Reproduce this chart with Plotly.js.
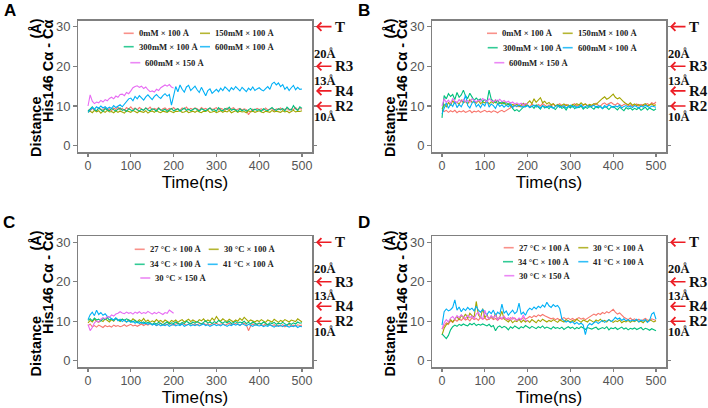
<!DOCTYPE html>
<html><head><meta charset="utf-8">
<script src="https://cdn.plot.ly/plotly-3.0.1.min.js"></script>
<style>html,body{margin:0;padding:0;background:#fff}#chart{width:708px;height:408px}</style>
</head><body><div id="chart"></div>
<script>
// ---------- DATA ----------
const timeLong = [0,5,10,15,20,25,30,35,40,45,50,55,60,65,70,75,80,85,90,95,
100,105,110,115,120,125,130,135,140,145,150,155,160,165,170,175,180,185,190,195,
200,205,210,215,220,225,230,235,240,245,250,255,260,265,270,275,280,285,290,295,
300,305,310,315,320,325,330,335,340,345,350,355,360,365,370,375,380,385,390,395,
400,405,410,415,420,425,430,435,440,445,450,455,460,465,470,475,480,485,490,495,500];
const timeShort = [0,5,10,15,20,25,30,35,40,45,50,55,60,65,70,75,80,85,90,95,
100,105,110,115,120,125,130,135,140,145,150,155,160,165,170,175,180,185,190,195,200];

const saltLabels = ["0mM × 100 Å","150mM × 100 Å","300mM × 100 Å","600mM × 100 Å","600mM × 150 Å"];
const tempLabels = ["27 °C × 100 Å","30 °C × 100 Å","34 °C × 100 Å","41 °C × 100 Å","30 °C × 150 Å"];
const seriesColors = ["#F8766D","#A3A500","#00BF7D","#00B0F6","#E76BF3"];
const xTicks = [0,100,200,300,400,500];
const yTicks = [0,10,20,30];
const stateNames = ["T","R3","R4","R2"];
const stateLevels = [30,20,13.8,10];
const distLabels = ["30Å","20Å","13Å","10Å"];
const distLabelLevels = [32.9,23.1,16.3,7.3];

// Panel A (salt, 100 Å / 150 Å box)
const aSalt0 = [9.0,8.8,9.4,9.1,8.7,9.5,9.2,8.9,9.6,9.0,
9.3,8.8,9.5,9.1,9.7,9.0,9.4,8.9,9.6,9.2,
9.8,9.1,9.5,9.0,9.6,9.3,8.9,9.5,9.2,9.7,
9.0,9.4,9.1,9.6,8.9,9.3,9.5,9.0,9.4,9.2,
9.6,9.1,9.3,8.9,9.5,9.2,9.7,9.0,9.4,9.1,
9.5,9.3,8.9,9.6,9.2,9.4,9.0,9.5,9.1,9.3,
9.6,9.0,9.4,9.2,8.9,9.5,9.1,9.3,9.6,9.0,
9.2,9.4,9.0,9.3,9.1,7.8,8.6,9.2,9.0,9.4,
9.1,9.3,8.9,9.5,9.0,9.2,9.4,8.8,9.3,9.1,
9.5,9.0,9.2,9.4,8.9,9.3,9.1,9.6,9.0,9.4,9.2];
const aSalt150 = [8.4,8.7,8.3,8.9,8.5,8.8,8.2,8.7,8.4,8.9,
8.5,8.6,8.3,8.8,8.4,8.7,8.5,8.2,8.8,8.6,
8.4,8.9,8.5,8.3,8.7,8.6,8.4,8.8,8.2,8.6,
8.7,8.4,8.9,8.5,8.3,8.7,8.6,8.4,8.8,8.5,
8.3,8.7,8.6,8.9,8.4,8.5,8.8,8.3,8.6,8.7,
8.4,8.8,8.5,8.3,8.7,8.6,8.9,8.4,8.5,8.7,
8.3,8.6,8.8,8.4,8.7,8.5,8.9,8.3,8.6,8.8,
8.4,8.7,8.5,8.6,8.3,8.8,8.5,8.7,8.4,8.6,
8.8,8.5,8.3,8.7,8.6,8.4,8.9,8.5,8.7,8.6,
8.4,8.8,8.5,8.7,8.3,8.6,8.9,8.5,8.7,8.6,8.8];
const aSalt300 = [8.7,9.4,9.8,9.1,8.8,9.5,9.0,8.6,9.3,9.1,
8.8,9.4,9.0,8.7,9.2,9.5,8.9,9.1,8.6,9.3,
9.0,8.8,9.4,9.1,8.7,9.2,8.9,9.5,9.0,8.8,
9.3,9.1,8.7,9.4,9.0,8.9,9.2,8.6,9.1,9.4,
8.8,9.0,9.3,8.7,9.1,9.5,8.9,9.2,8.8,9.0,
9.4,9.1,8.7,9.3,9.0,8.8,9.2,9.5,8.9,9.1,
8.7,9.6,9.0,8.8,9.4,9.1,9.7,8.9,9.2,9.0,
8.6,9.3,8.8,9.1,8.7,9.0,9.4,8.8,9.2,8.9,
9.1,8.7,9.3,9.0,8.8,9.2,9.6,9.1,8.9,9.3,
9.0,9.4,8.8,9.7,9.2,9.0,10.1,9.3,8.9,9.8,9.4];
const aSalt600 = [8.4,9.0,9.6,9.2,9.8,9.4,10.0,9.5,9.8,9.3,
9.7,9.4,10.1,9.6,9.9,10.3,9.8,10.5,11.2,11.8,
12.0,11.3,12.4,11.8,12.6,12.1,11.5,12.3,12.8,12.2,
11.6,12.4,12.9,12.3,11.9,12.6,13.1,12.5,12.9,10.2,
12.8,14.9,13.6,15.3,14.2,13.5,14.8,15.2,13.9,14.6,
15.0,14.1,13.4,14.7,13.8,12.6,13.9,14.3,13.2,13.8,
14.2,13.6,14.5,13.9,14.8,14.3,13.7,14.6,14.1,14.9,
14.4,13.8,14.7,14.2,13.6,14.5,14.0,14.8,13.9,14.3,
14.6,14.1,13.8,14.4,14.9,14.2,15.6,16.0,15.3,15.8,
14.9,15.4,14.2,14.8,13.9,14.6,15.2,14.1,14.7,14.2,14.3];
const aSalt600Big = [10.0,12.8,11.2,10.6,11.0,10.8,11.4,11.0,11.6,11.3,
11.9,12.2,11.8,12.5,12.2,12.9,13.0,12.6,13.4,13.1,
13.8,14.6,14.9,15.1,14.7,15.0,14.4,14.8,14.1,13.6,
13.8,13.5,14.2,13.9,14.6,14.9,15.3,15.0,15.4,14.8,14.5];

// Panel B (salt)
const bSalt0 = [9.0,8.6,8.9,8.4,8.8,8.5,8.9,8.3,8.7,8.5,
8.8,8.4,8.6,8.9,8.3,8.7,8.5,8.8,8.4,8.6,
8.9,8.5,8.7,8.4,8.8,8.6,8.3,8.7,8.9,8.5,
8.8,9.2,9.6,9.9,10.2,9.8,10.3,10.0,10.4,10.1,
10.3,9.8,10.5,10.1,9.9,10.4,10.0,10.6,10.2,9.8,
10.3,10.0,10.5,9.9,10.2,10.6,10.1,9.8,10.4,10.2,
9.9,10.3,10.6,10.0,10.4,9.8,10.2,10.5,10.1,10.3,
10.0,10.4,10.7,10.2,9.9,10.5,10.8,10.3,10.6,10.9,
10.5,10.2,10.7,10.3,10.0,10.4,10.6,10.1,10.3,9.9,
10.2,10.5,10.0,10.4,10.1,10.3,10.6,10.2,10.8,10.5,11.0];
const bSalt150 = [9.2,10.4,9.8,10.9,10.2,11.3,10.6,11.0,10.4,11.5,
10.8,11.2,10.5,11.6,10.9,11.1,10.7,11.4,10.6,11.0,
10.8,11.3,10.5,11.1,10.7,11.5,10.4,10.9,10.6,11.0,
10.2,10.6,9.9,10.4,10.1,10.5,9.8,10.3,10.7,10.2,
10.8,11.3,10.6,11.8,10.9,11.4,12.1,10.8,11.2,10.5,
10.9,10.3,10.6,10.0,10.4,9.9,10.2,10.5,10.1,10.3,
9.9,10.4,10.1,10.6,10.2,10.8,10.3,10.5,10.0,10.4,
10.2,10.6,10.4,10.9,11.6,11.9,12.3,11.7,12.0,12.5,
13.0,12.2,11.8,12.1,11.4,11.0,10.6,10.3,10.8,10.2,
10.5,10.1,10.4,9.9,10.3,10.6,10.0,10.2,10.5,10.1,10.3];
const bSalt300 = [7.0,12.6,11.8,13.1,12.4,12.9,11.6,13.4,12.2,12.8,
14.0,12.5,11.9,13.2,12.3,11.4,12.0,11.5,11.8,11.1,
11.6,11.0,14.0,11.7,11.2,10.8,11.4,10.6,11.1,10.5,
10.9,10.3,10.7,9.4,8.8,9.1,8.6,9.3,9.7,9.9,
10.2,9.6,10.0,9.4,10.3,9.7,9.2,10.1,9.5,9.9,
9.3,10.0,9.6,9.1,9.8,10.2,9.4,9.7,9.0,9.9,
9.5,10.1,9.3,9.8,9.6,10.0,9.2,9.7,9.4,10.1,
9.6,9.2,9.9,9.5,10.0,9.3,9.8,9.6,9.1,9.7,
9.9,9.4,9.0,9.7,9.3,8.8,9.6,9.2,9.5,9.0,
9.4,9.1,9.6,8.9,9.3,9.7,9.0,9.5,9.2,8.9,9.3];
const bSalt600 = [8.0,9.6,10.8,9.4,10.5,9.9,11.2,9.6,10.4,9.8,
10.9,12.8,10.1,9.5,10.7,11.3,9.8,10.4,9.6,10.6,
10.0,11.4,9.7,10.5,10.1,9.4,10.6,9.9,10.3,9.7,
10.2,9.8,10.4,9.6,10.1,9.9,10.3,9.7,10.0,9.8,
10.1,9.6,9.9,10.2,9.7,10.0,9.5,10.1,9.8,9.6,
10.0,9.7,9.4,9.9,10.2,9.6,9.8,10.1,9.5,9.9,
10.2,9.7,10.0,9.5,9.9,10.3,9.6,9.8,10.1,9.7,
9.9,10.2,9.6,10.0,9.8,9.4,10.1,9.7,10.3,9.9,
9.6,10.0,9.8,10.2,9.5,9.9,10.1,9.7,10.0,9.6,
10.1,9.8,9.5,10.0,9.7,10.2,9.9,9.6,10.0,9.8,9.7];
const bSalt600Big = [10.0,11.8,10.9,11.5,10.7,11.9,11.2,10.8,11.6,11.1,
11.7,11.0,11.4,10.9,11.8,11.3,11.0,11.5,11.2,11.9,
11.4,11.1,11.8,11.3,11.0,11.6,11.2,11.7,11.1,11.4,
10.9,11.2,10.7,11.0,10.5,10.8,10.4,10.7,10.3,10.6,10.5];

// Panel C (temperature)
const cTemp27 = [8.8,9.3,8.6,8.9,8.5,9.0,8.7,8.4,8.9,8.6,
8.8,8.5,9.0,8.7,8.9,8.6,8.8,9.1,8.7,8.9,
9.2,8.8,9.0,8.7,9.1,9.3,8.9,9.2,9.0,9.4,
9.1,9.3,8.9,9.2,9.5,9.0,9.3,9.1,9.4,9.2,
9.0,9.3,9.5,9.1,9.4,9.2,9.0,9.3,9.5,9.1,
9.3,9.0,9.4,9.2,9.5,9.1,9.3,9.0,9.4,9.2,
9.5,9.1,9.3,9.4,9.0,9.2,9.5,9.1,9.3,9.4,
9.2,9.0,9.3,9.5,9.1,7.6,8.8,9.3,9.0,9.2,
9.4,9.1,8.9,9.3,9.0,9.2,8.8,9.1,8.7,9.0,
8.8,9.1,8.6,8.9,9.2,8.7,9.0,8.8,9.1,8.9,9.0];
const cTemp30 = [9.6,10.2,9.8,10.5,10.0,9.7,10.3,9.9,10.6,10.1,
9.8,10.4,10.0,10.7,10.2,9.9,10.5,10.1,9.8,10.3,
9.9,10.6,10.2,9.8,10.4,10.0,10.7,9.9,10.3,9.7,
10.1,9.8,10.4,9.9,10.2,9.7,10.3,10.0,9.6,10.2,
9.9,10.3,9.7,10.1,10.4,9.8,10.2,10.5,9.9,10.3,
10.0,9.7,10.4,10.1,10.6,9.9,10.3,10.0,10.8,10.2,
11.2,10.4,10.0,10.6,10.2,9.9,10.5,10.1,9.8,10.3,
10.0,10.7,10.2,11.0,10.4,9.9,10.3,10.1,9.8,10.2,
9.9,10.4,10.0,9.7,10.3,10.1,9.8,10.5,10.0,9.7,
10.2,9.9,10.4,10.0,9.8,10.3,10.1,9.9,10.6,10.2,9.8];
const cTemp34 = [10.2,10.6,10.1,10.8,10.3,10.5,10.0,10.7,10.4,10.9,
10.3,10.6,10.2,10.8,10.4,10.1,10.5,10.2,10.6,10.3,
10.0,9.8,10.2,9.6,9.9,9.5,9.8,9.4,9.7,9.5,
9.2,9.6,9.3,9.7,9.4,9.1,9.5,9.8,9.3,9.6,
9.4,9.8,9.5,9.2,9.7,9.4,10.0,9.6,9.3,9.8,
9.5,9.9,9.6,9.3,9.7,10.1,9.5,9.8,9.4,9.9,
9.6,10.2,9.8,9.5,9.9,9.6,10.0,9.4,9.7,9.9,
9.5,9.8,9.6,10.0,9.4,9.7,9.3,9.8,9.5,9.2,
9.6,9.3,9.8,9.5,9.1,9.6,9.4,9.7,9.2,9.5,
9.3,9.7,9.4,9.0,9.5,9.2,9.6,9.3,9.8,9.5,9.6];
const cTemp41 = [10.4,11.6,12.3,11.4,12.8,11.7,12.2,11.5,11.9,11.2,
11.0,10.6,10.3,10.8,10.1,10.5,9.9,10.3,9.8,10.1,
9.7,10.0,9.5,9.9,9.4,9.7,9.3,9.6,9.2,9.5,
9.0,9.3,8.9,9.2,8.8,9.1,8.9,9.2,8.7,9.0,
9.2,8.8,9.1,8.9,9.3,8.7,9.0,9.2,8.8,9.1,
8.9,9.2,8.8,9.0,9.3,8.9,9.1,8.7,9.0,9.2,
8.9,9.1,8.8,9.2,9.0,8.7,9.1,8.9,9.3,9.0,
9.2,8.9,9.4,9.1,8.8,9.2,9.0,8.7,9.1,8.9,
8.8,9.0,8.6,8.9,8.7,9.1,8.8,8.5,8.9,8.7,
8.9,8.6,9.0,8.7,8.5,8.8,8.6,8.9,8.4,8.7,8.6];
const cTemp30Big = [9.2,7.6,8.4,9.6,10.1,9.8,10.5,10.9,10.6,11.2,
11.0,11.6,11.3,11.8,12.0,12.4,12.1,11.9,12.3,12.0,
12.2,11.8,12.3,12.0,12.4,11.9,12.2,12.0,12.5,12.1,
11.8,12.2,11.9,12.3,12.0,11.7,12.2,12.0,12.8,12.4,12.0];

// Panel D (temperature)
const dTemp27 = [8.0,8.8,9.6,9.2,10.1,9.7,10.4,10.0,10.6,10.2,
10.8,10.3,10.6,10.1,10.9,10.4,10.7,10.2,11.0,10.5,
10.8,10.3,10.6,10.9,10.4,10.7,10.2,10.8,10.5,11.0,
10.6,10.3,10.9,10.5,10.8,10.2,10.6,10.4,10.9,10.5,
10.8,11.2,10.9,11.4,11.1,11.6,11.3,11.7,11.4,11.2,
10.9,10.6,10.8,10.4,10.7,10.3,10.6,10.9,10.5,10.8,
10.4,10.7,10.3,10.6,10.9,10.5,10.8,10.4,10.7,11.1,
11.4,11.8,11.5,12.0,11.7,12.2,11.9,12.4,12.1,12.6,
13.0,12.3,11.8,12.1,11.5,11.0,10.7,10.4,10.8,10.3,
10.6,10.2,10.5,10.0,10.4,10.7,10.3,10.1,10.6,10.4,10.2];
const dTemp30 = [6.5,8.2,9.1,9.6,10.4,9.8,10.6,11.2,10.3,11.5,
10.9,11.8,10.7,12.0,11.4,11.0,15.0,11.6,10.8,13.2,
10.9,11.6,10.5,11.3,10.7,11.9,10.4,11.1,12.5,10.6,
10.2,9.8,10.4,9.6,10.1,9.9,10.5,9.7,10.3,9.8,
10.2,9.7,10.4,10.0,9.6,10.3,9.9,10.5,10.1,9.8,
10.2,9.9,10.4,10.0,9.7,10.3,10.1,9.8,10.4,10.0,
9.8,10.2,9.9,10.5,10.1,9.7,10.3,10.0,9.8,10.4,
10.1,9.7,10.3,10.0,10.5,9.9,10.2,9.8,10.4,10.0,
9.7,10.1,9.9,10.3,9.6,10.0,9.8,10.2,9.7,10.1,
9.9,10.3,9.8,10.0,9.6,10.2,9.9,10.4,10.0,9.8,10.1];
const dTemp34 = [6.8,6.2,5.6,6.4,7.8,8.6,9.0,8.7,9.2,8.9,
9.3,9.0,8.8,9.4,9.1,9.5,8.9,9.2,9.0,9.3,
9.1,8.8,9.2,8.6,8.9,7.6,8.5,8.8,8.3,8.7,
8.4,7.8,8.6,8.2,8.8,8.4,8.1,8.6,8.3,8.9,
8.5,8.2,8.7,8.4,8.1,8.6,8.3,8.8,8.2,8.5,
8.3,8.0,8.6,8.2,8.4,8.1,8.5,7.9,8.3,8.6,
8.2,8.5,8.0,8.4,8.1,8.6,8.3,7.9,8.4,8.2,
8.0,8.3,8.5,7.9,8.2,8.4,8.1,8.6,7.8,8.3,
8.1,8.4,7.9,8.2,8.5,8.0,8.3,7.8,8.2,8.0,
8.3,7.9,8.1,8.4,7.8,8.2,8.0,7.7,8.1,7.9,7.6];
const dTemp41 = [9.0,12.4,13.1,12.6,12.9,13.5,15.4,12.8,13.6,12.4,
13.2,12.7,13.5,12.9,13.3,12.6,13.8,12.8,12.3,13.0,
12.2,11.6,12.5,11.9,12.8,11.4,12.3,11.8,14.3,12.0,
12.6,11.5,12.2,12.8,11.9,12.4,14.6,11.7,12.3,11.5,
12.7,13.3,12.9,13.6,13.1,13.8,13.4,14.1,13.6,14.8,
13.9,13.5,14.2,13.7,14.0,13.2,10.6,10.2,9.8,10.1,
9.6,9.9,9.3,9.7,9.2,9.5,9.0,6.6,8.8,9.4,
9.1,9.6,9.9,9.4,9.8,10.2,9.7,10.0,10.4,9.9,
10.3,11.0,10.5,10.8,10.2,10.6,10.1,10.4,10.0,10.3,
10.1,10.5,9.8,10.3,10.0,10.4,9.7,10.2,11.8,12.2,10.5];
const dTemp30Big = [8.0,9.6,10.4,9.8,10.8,11.2,10.5,11.4,10.9,11.6,
11.1,10.7,11.5,10.9,11.3,10.6,11.8,12.3,11.0,10.5,
12.8,11.2,10.6,11.4,10.8,11.5,10.4,11.1,10.7,11.3,
10.5,10.9,10.3,11.0,10.6,10.2,10.8,10.4,11.6,10.3,10.0];

// ---------- LAYOUT HELPERS ----------
const W = 708, H = 408;
const px = x => x / W;
const py = y => 1 - y / H;

const panels = [
  {letter:'A', data:[aSalt0,aSalt150,aSalt300,aSalt600,aSalt600Big], names:saltLabels, dx:0, top:20.7, bottom:152,
   legendPos:[[136.7,33.3],[213,33.3],[136.7,46.7],[213,46.7],[143.3,62.7]], r30:322.7,
   letterPos:[9.5,10], distY:127.5, aY:29, hisY:71},
  {letter:'B', data:[bSalt0,bSalt150,bSalt300,bSalt600,bSalt600Big], names:saltLabels, dx:354, top:20.7, bottom:152,
   legendPos:[[500,33.3],[575.7,33.3],[500.7,47.7],[575.7,47.7],[507.3,62.7]], r30:676.7,
   letterPos:[363.5,10], distY:127.5, aY:29, hisY:71},
  {letter:'C', data:[cTemp27,cTemp30,cTemp34,cTemp41,cTemp30Big], names:tempLabels, dx:0, top:236.3, bottom:367,
   legendPos:[[147.7,249.3],[221.7,249.3],[147.7,264.3],[220.7,264.3],[153.3,278]], r30:314,
   letterPos:[8.5,223], distY:347, aY:241, hisY:283},
  {letter:'D', data:[dTemp27,dTemp30,dTemp34,dTemp41,dTemp30Big], names:tempLabels, dx:354, top:236.3, bottom:367,
   legendPos:[[516.7,247.7],[591.3,247.7],[516,261.7],[591.3,261.7],[517.3,275.7]], r30:674.5,
   letterPos:[363.5,223], distY:347, aY:241, hisY:283}
];

const traces = [];
const layout = {
  width: W, height: H,
  margin: {l:0, r:0, t:0, b:0},
  paper_bgcolor: '#ffffff', plot_bgcolor: '#ffffff',
  showlegend: false,
  font: {family: 'Liberation Sans, Arial, sans-serif', color: '#000'},
  annotations: [],
  shapes: []
};

const axisGrey = '#808080';
const sansFont = 'Liberation Sans, Arial, sans-serif';
const serifFont = 'Liberation Serif, Times New Roman, serif';

panels.forEach((p, pi) => {
  const n = pi === 0 ? '' : String(pi + 1);
  layout['xaxis' + n] = {
    domain: [px(78 + p.dx), px(312 + p.dx)],
    range: [-23.4, 523.4],
    anchor: 'y' + n,
    tickmode: 'array', tickvals: xTicks,
    ticks: 'outside', ticklen: 3.5, tickwidth: 1.2, tickcolor: axisGrey,
    ticklabelstandoff: -2,
    showline: true, linecolor: axisGrey, linewidth: 1.5, mirror: true,
    showgrid: false, zeroline: false,
    tickfont: {size: 12.5, color: '#555555', family: sansFont},
    title: {text: 'Time(ns)', font: {size: 17, color: '#000', family: sansFont}, standoff: 2}
  };
  layout['yaxis' + n] = {
    domain: [py(p.bottom), py(p.top)],
    range: [-1.6, 31.5],
    anchor: 'x' + n,
    tickmode: 'array', tickvals: yTicks,
    ticks: 'outside', ticklen: 3.5, tickwidth: 1.2, tickcolor: axisGrey,
    showline: true, linecolor: axisGrey, linewidth: 1.5, mirror: 'ticks',
    showgrid: false, zeroline: false,
    tickfont: {size: 13, color: '#555555', family: sansFont}
  };

  p.data.forEach((vals, i) => {
    traces.push({
      x: i === 4 ? timeShort : timeLong,
      y: vals,
      xaxis: 'x' + n, yaxis: 'y' + n,
      type: 'scatter', mode: 'lines',
      name: p.names[i],
      line: {color: seriesColors[i], width: 1.1}
    });
    // legend key: short line + label
    const pos = p.legendPos[i];
    layout.shapes.push({
      type: 'line', xref: 'paper', yref: 'paper',
      x0: px(pos[0] - 13), x1: px(pos[0] - 3), y0: py(pos[1]), y1: py(pos[1]),
      line: {color: seriesColors[i], width: 1.6}, opacity: 0.8
    });
    layout.annotations.push({
      xref: 'paper', yref: 'paper', x: px(pos[0]), y: py(pos[1]),
      xanchor: 'left', yanchor: 'middle', showarrow: false,
      text: '<b>' + p.names[i] + '</b>',
      font: {family: serifFont, size: 8.6, color: '#222'}
    });
  });

  // panel letter
  layout.annotations.push({
    xref: 'paper', yref: 'paper', x: px(p.letterPos[0]), y: py(p.letterPos[1]),
    xanchor: 'center', yanchor: 'middle', showarrow: false,
    text: '<b>' + p.letter + '</b>',
    font: {size: 17, color: '#000', family: sansFont}
  });

  // y title pieces
  const ytFont = {size: 14.5, color: '#000', family: sansFont};
  layout.annotations.push({xref:'paper', yref:'paper', x: px(35.5 + p.dx), y: py(p.distY), textangle: -90,
    xanchor:'center', yanchor:'middle', showarrow:false, text:'<b>Distance</b>', font: ytFont});
  layout.annotations.push({xref:'paper', yref:'paper', x: px(35.5 + p.dx), y: py(p.aY), textangle: -90,
    xanchor:'center', yanchor:'middle', showarrow:false, text:'<b>(Å)</b>', font: ytFont});
  layout.annotations.push({xref:'paper', yref:'paper', x: px(48 + p.dx), y: py(p.hisY), textangle: -90,
    xanchor:'center', yanchor:'middle', showarrow:false, text:'<b>His146 Cα - Cα</b>', font: ytFont});

  // state arrows and labels on the right
  stateLevels.forEach((lv, k) => {
    layout.annotations.push({
      xref: 'paper', yref: 'y' + n, x: px(316 + p.dx), y: lv,
      ax: 17, ay: 0, text: ' ', font: {size: 1},
      showarrow: true, arrowhead: 4, arrowsize: 1, arrowwidth: 1.6, arrowcolor: '#ed1c24'
    });
    layout.annotations.push({
      xref: 'paper', yref: 'y' + n, x: px(333 + p.dx), y: lv,
      xanchor: 'left', yanchor: 'middle', showarrow: false,
      text: '<b>' + stateNames[k] + '</b>',
      font: {size: 15, color: '#111', family: serifFont}
    });
    layout.annotations.push({
      xref: 'paper', yref: 'y' + n, x: px(k === 0 ? p.r30 : 325 + p.dx), y: distLabelLevels[k],
      xanchor: 'center', yanchor: 'middle', showarrow: false,
      text: '<b>' + distLabels[k] + '</b>',
      font: {size: 12.5, color: '#111', family: serifFont}
    });
  });
});

Plotly.newPlot('chart', traces, layout, {displayModeBar: false, staticPlot: true});
</script>
</body></html>
